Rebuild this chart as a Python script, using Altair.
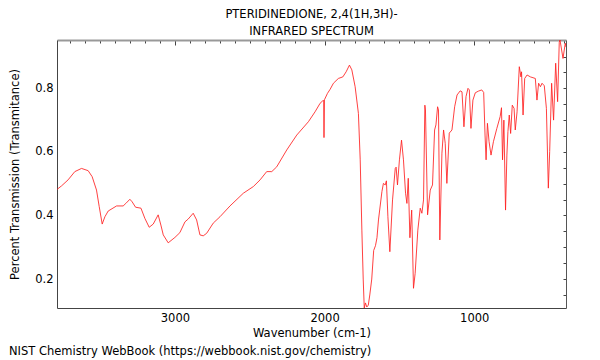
import altair as alt
import pandas as pd

wavenumber = [
    3788, 3758, 3714, 3669, 3624, 3580, 3553, 3524, 3506, 3486, 3468, 3446, 3390, 3346, 3328, 3301,
    3286, 3263, 3227, 3201, 3172, 3145, 3112, 3094, 3078, 3045, 3000, 2967, 2933, 2911, 2878, 2855,
    2833, 2811, 2788, 2744, 2699, 2632, 2543, 2476, 2431, 2387, 2353, 2320, 2253, 2186, 2108, 2064,
    2030, 2012, 2006, 2004, 2001, 1981, 1963, 1941, 1908, 1878, 1856, 1834, 1818, 1796, 1774, 1762,
    1751, 1742, 1735, 1727, 1718, 1708, 1698, 1685, 1672, 1660, 1650, 1640, 1617, 1607, 1595, 1587,
    1577, 1564, 1546, 1528, 1522, 1513, 1500, 1486, 1473, 1459, 1450, 1441, 1430, 1418, 1406, 1395,
    1377, 1361, 1350, 1339, 1330, 1326, 1312, 1294, 1279, 1265, 1256, 1245, 1239, 1230, 1216, 1205,
    1194, 1183, 1167, 1149, 1131, 1115, 1094, 1082, 1069, 1055, 1042, 1033, 1022, 1009, 993, 973,
    950, 937, 928, 921, 912, 901, 888, 872, 849, 827, 818, 811, 802, 791, 782, 775, 766, 757, 746,
    734, 726, 714, 699, 688, 684, 674, 663, 647, 625, 592, 581, 570, 558, 547, 532, 518, 505, 496,
    483, 470, 456, 443, 432, 427, 407, 392, 387,
]
transmittance = [
    0.482, 0.493, 0.512, 0.538, 0.548, 0.541, 0.522, 0.480, 0.428, 0.373, 0.396, 0.414, 0.430, 0.430, 0.438, 0.451,
    0.443, 0.426, 0.423, 0.391, 0.363, 0.373, 0.402, 0.370, 0.339, 0.314, 0.331, 0.346, 0.380, 0.389, 0.407, 0.386,
    0.339, 0.336, 0.344, 0.376, 0.396, 0.430, 0.470, 0.491, 0.512, 0.538, 0.538, 0.553, 0.606, 0.653, 0.695, 0.726,
    0.753, 0.761, 0.762, 0.645, 0.764, 0.784, 0.797, 0.816, 0.831, 0.836, 0.852, 0.873, 0.858, 0.805, 0.721, 0.575,
    0.354, 0.200, 0.109, 0.125, 0.112, 0.118, 0.150, 0.200, 0.290, 0.305, 0.330, 0.386, 0.475, 0.501, 0.496, 0.509,
    0.396, 0.286, 0.449, 0.548, 0.552, 0.496, 0.575, 0.637, 0.575, 0.470, 0.438, 0.517, 0.330, 0.417, 0.171, 0.218,
    0.354, 0.423, 0.407, 0.449, 0.747, 0.732, 0.402, 0.480, 0.496, 0.669, 0.685, 0.742, 0.732, 0.323, 0.596, 0.669,
    0.627, 0.501, 0.659, 0.669, 0.742, 0.779, 0.792, 0.789, 0.679, 0.774, 0.800, 0.795, 0.674, 0.763, 0.786, 0.791,
    0.795, 0.787, 0.653, 0.575, 0.690, 0.632, 0.590, 0.632, 0.674, 0.711, 0.739, 0.575, 0.700, 0.417, 0.590, 0.664, 0.716, 0.658, 0.747,
    0.737, 0.669, 0.726, 0.868, 0.836, 0.852, 0.716, 0.831, 0.842, 0.836, 0.831, 0.763, 0.816, 0.805, 0.816, 0.808, 0.737, 0.486, 0.601,
    0.816, 0.700, 0.879, 0.758, 0.945, 0.952, 0.894, 0.942, 0.930,
]

x_major = [3000, 2000, 1000]
x_minor = [3700, 3600, 3500, 3400, 3300, 3200, 3100, 2900, 2800, 2700, 2600, 2500, 2400, 2300, 2200, 2100,
           1900, 1800, 1700, 1600, 1500, 1400, 1300, 1200, 1100, 900, 800, 700, 600, 500, 400]
y_major = [0.2, 0.4, 0.6, 0.8]
y_all = [0.15, 0.2, 0.25, 0.3, 0.35, 0.4, 0.45, 0.5, 0.55, 0.6, 0.65, 0.7, 0.75, 0.8, 0.85, 0.9]

title_lines = ["PTERIDINEDIONE, 2,4(1H,3H)-", "INFRARED SPECTRUM"]
x_title = "Wavenumber (cm-1)"
y_title = "Percent Transmission (Transmitance)"
footer = "NIST Chemistry WebBook (https://webbook.nist.gov/chemistry)"

FONT = "DejaVu Sans"
W, H = 509, 268

df = pd.DataFrame({"wn": wavenumber, "t": transmittance})
xs = alt.Scale(reverse=True, nice=False, zero=False)
ys = alt.Scale(nice=False, zero=False)

base = alt.Chart(df)

line = base.mark_line(color="#ff2020", strokeWidth=1, opacity=0.85, clip=True).encode(
    x=alt.X("wn:Q", scale=xs, axis=alt.Axis(values=x_major, format="d", ticks=False, grid=False,
                                            title=x_title, labelPadding=4, titlePadding=4,
                                            domainColor="#444", labelFontSize=11.5, titleFontSize=11.5)),
    y=alt.Y("t:Q", scale=ys, axis=alt.Axis(values=y_major, format=".1f", ticks=False, grid=False,
                                           title=y_title, labelPadding=4, titlePadding=14,
                                           domainColor="#444", labelFontSize=11.5, titleFontSize=11.5)),
)

major_ticks = base.mark_line(opacity=0).encode(
    x=alt.X("wn:Q", scale=xs, axis=alt.Axis(values=x_major, labels=False, domain=False, grid=False,
                                            title=None, tickSize=5, offset=-5, tickColor="#444")),
    y=alt.Y("t:Q", scale=ys, axis=alt.Axis(values=y_all, labels=False, domain=False, grid=False,
                                           title=None, tickSize=3, offset=-3, tickColor="#444")),
)

minor_ticks = base.mark_line(opacity=0).encode(
    x=alt.X("wn:Q", scale=xs, axis=alt.Axis(values=x_minor, labels=False, domain=False, grid=False,
                                            title=None, tickSize=3, offset=-3, tickColor="#444")),
    y=alt.Y("t:Q", scale=ys, axis=alt.Axis(orient="right", labels=False, ticks=False, grid=False,
                                           title=None, domainColor="#555", domainWidth=1)),
)

frame_top = base.mark_line(opacity=0).encode(
    x=alt.X("wn:Q", scale=xs, axis=alt.Axis(orient="top", labels=False, ticks=False, grid=False,
                                            title=None, domainColor="#999", domainWidth=2)),
    y=alt.Y("t:Q", scale=ys, axis=None),
)

foot = alt.Chart(pd.DataFrame({"txt": [footer]})).mark_text(
    align="left", baseline="middle", fontSize=11.5, font=FONT, color="black"
).encode(x=alt.value(-48), y=alt.value(H + 44), text="txt:N")

chart = alt.layer(line, major_ticks, minor_ticks, frame_top, foot).resolve_axis(
    x="independent", y="independent"
).properties(
    width=W, height=H,
    title=alt.TitleParams(text=title_lines, fontSize=11.5, fontWeight="normal", font=FONT,
                          anchor="middle", frame="group", offset=2, lineHeight=17),
    autosize=alt.AutoSizeParams(type="none"),
    padding={"left": 49, "top": 32, "right": 18, "bottom": 50},
).configure_axis(
    labelFont=FONT, titleFont=FONT, labelColor="black", titleColor="black", titleFontWeight="normal"
).configure_view(stroke=None)

chart.save("out.html", embed_options={"renderer": "svg", "actions": False})
